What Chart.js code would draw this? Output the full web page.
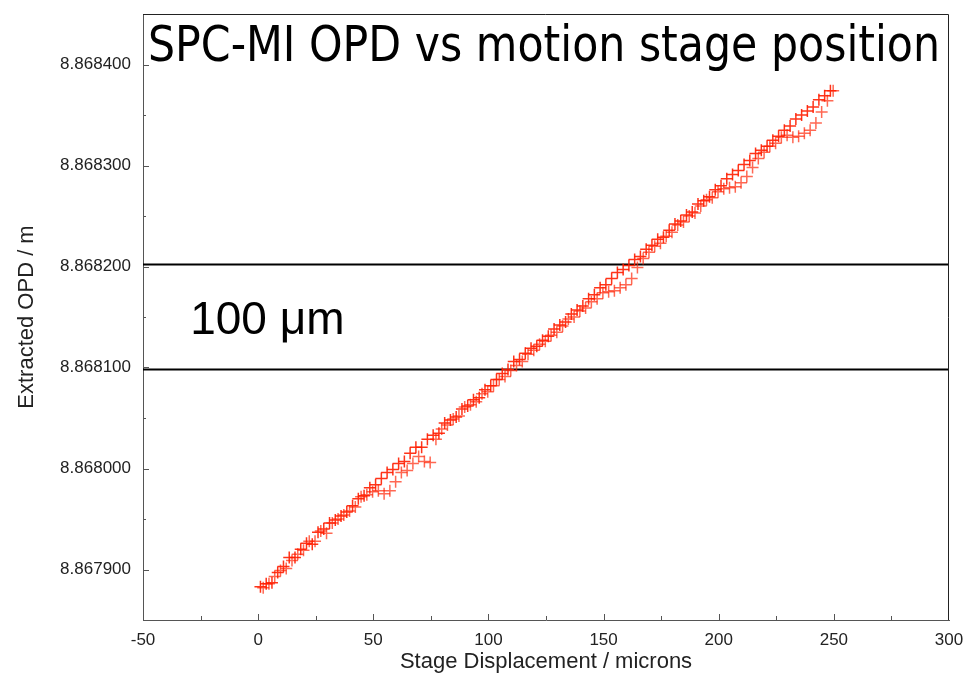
<!DOCTYPE html>
<html>
<head>
<meta charset="utf-8">
<script src="https://cdn.jsdelivr.net/npm/chart.js@4.4.1/dist/chart.umd.min.js"></script>
<style>
  html, body { margin: 0; padding: 0; background: #fff; }
  #wrap { width: 965px; height: 677px; position: relative; }
</style>
</head>
<body>
<div id="wrap"><canvas id="opd"></canvas></div>
<script>
// stage displacement (microns) and extracted OPD (m)
const scanAx = [1, 3.5, 6, 8.5, 11, 13.5, 16, 18.5, 21, 23.5, 26, 28.5, 31, 33.5, 36, 38.5, 41, 43.5, 46, 48.5,
  51, 53.5, 56, 58.5, 61, 63.5, 66, 68.5, 71, 73.5, 76, 78.5, 81, 83.5, 86, 88.5, 91, 93.5, 96, 98.5,
  101, 103.5, 106, 108.5, 111, 113.5, 116, 118.5, 121, 123.5, 126, 128.5, 131, 133.5, 136, 138.5, 141, 143.5, 146, 148.5,
  151, 153.5, 156, 158.5, 161, 163.5, 166, 168.5, 171, 173.5, 176, 178.5, 181, 183.5, 186, 188.5, 191, 193.5, 196, 198.5,
  201, 203.5, 206, 208.5, 211, 213.5, 216, 218.5, 221, 223.5, 226, 228.5, 231, 233.5, 236, 238.5, 241, 243.5, 246, 248.5];
const scanAy = [8.867883, 8.867886, 8.867887, 8.867897, 8.867903, 8.867912, 8.867912, 8.867920, 8.867926, 8.867925,
  8.867937, 8.867940, 8.867946, 8.867949, 8.867953, 8.867957, 8.867963, 8.867970, 8.867973, 8.867981,
  8.867984, 8.867990, 8.867996, 8.867999, 8.868005, 8.868007, 8.868015, 8.868021, 8.868021, 8.868029,
  8.868033, 8.868035, 8.868045, 8.868048, 8.868051, 8.868059, 8.868062, 8.868068, 8.868070, 8.868078,
  8.868082, 8.868088, 8.868094, 8.868098, 8.868106, 8.868108, 8.868114, 8.868119, 8.868121, 8.868127,
  8.868131, 8.868138, 8.868142, 8.868145, 8.868153, 8.868157, 8.868161, 8.868168, 8.868172, 8.868179,
  8.868182, 8.868188, 8.868194, 8.868197, 8.868201, 8.868207, 8.868210, 8.868217, 8.868221, 8.868227,
  8.868229, 8.868236, 8.868242, 8.868245, 8.868251, 8.868254, 8.868262, 8.868265, 8.868269, 8.868276,
  8.868280, 8.868287, 8.868291, 8.868295, 8.868301, 8.868305, 8.868312, 8.868315, 8.868319, 8.868325,
  8.868329, 8.868335, 8.868339, 8.868346, 8.868350, 8.868354, 8.868358, 8.868365, 8.868369, 8.868374];

const scanBx = [2.2, 4.7, 7.2, 9.7, 12.2, 14.7, 17.2, 19.7, 22.2, 24.7, 27.2, 29.7, 32.2, 34.7, 37.2, 39.7, 42.2, 44.7, 47.2, 49.7,
  52.2, 54.7, 57.2, 59.7, 62.2, 64.7, 67.2, 69.7, 72.2, 74.7, 77.2, 79.7, 82.2, 84.7, 87.2, 89.7, 92.2, 94.7, 97.2, 99.7,
  102.2, 104.7, 107.2, 109.7, 112.2, 114.7, 117.2, 119.7, 122.2, 124.7, 127.2, 129.7, 132.2, 134.7, 137.2, 139.7, 142.2, 144.7, 147.2, 149.7,
  152.2, 154.7, 157.2, 159.7, 162.2, 164.7, 167.2, 169.7, 172.2, 174.7, 177.2, 179.7, 182.2, 184.7, 187.2, 189.7, 192.2, 194.7, 197.2, 199.7,
  202.2, 204.7, 207.2, 209.7, 212.2, 214.7, 217.2, 219.7, 222.2, 224.7, 227.2, 229.7, 232.2, 234.7, 237.2, 239.7, 242.2, 244.7, 247.2, 249.7];
const scanBy = [8.867882, 8.867886, 8.867893, 8.867899, 8.867901, 8.867909, 8.867915, 8.867919, 8.867928, 8.867928,
  8.867938, 8.867936, 8.867946, 8.867950, 8.867954, 8.867958, 8.867962, 8.867972, 8.867974, 8.867977,
  8.867978, 8.867975, 8.867978, 8.867987, 8.867996, 8.867998, 8.868005, 8.868012, 8.868007, 8.868006,
  8.868029, 8.868039, 8.868043, 8.868049, 8.868052, 8.868061, 8.868063, 8.868066, 8.868074, 8.868076,
  8.868082, 8.868088, 8.868091, 8.868097, 8.868102, 8.868106, 8.868113, 8.868117, 8.868123, 8.868126,
  8.868132, 8.868135, 8.868141, 8.868148, 8.868150, 8.868156, 8.868159, 8.868165, 8.868168, 8.868174,
  8.868175, 8.868176, 8.868179, 8.868182, 8.868188, 8.868199, 8.868208, 8.868214, 8.868220, 8.868223,
  8.868230, 8.868234, 8.868241, 8.868244, 8.868250, 8.868253, 8.868260, 8.868266, 8.868268, 8.868274,
  8.868277, 8.868278, 8.868279, 8.868283, 8.868289, 8.868298, 8.868307, 8.868313, 8.868319, 8.868322,
  8.868328, 8.868330, 8.868328, 8.868329, 8.868332, 8.868335, 8.868342, 8.868353, 8.868364, 8.868374];

// the two horizontal marker lines and the gap label
const markerLevels = [8.868202, 8.868098];
const xRange = [-50, 300];
const yRange = [8.86785, 8.86845];
const titleText = 'SPC-MI OPD vs motion stage position';
const gapLabel = { text: '100 \u03bcm', x: -29.5, y: 8.868133 };

const toPts = (xs, ys) => xs.map((x, i) => ({ x: x, y: ys[i] }));

const noOverhang = s => { s.paddingTop = 0; s.paddingRight = 0; s.paddingLeft = 0; s.paddingBottom = 0; };

const frameAndTicks = {
  id: 'frameAndTicks',
  afterDatasetsDraw(chart) {
    const { ctx, chartArea: a, scales } = chart;
    ctx.save();
    // top and right frame
    ctx.strokeStyle = '#222';
    ctx.lineWidth = 1;
    ctx.beginPath();
    ctx.moveTo(a.left, a.top + 0.5);
    ctx.lineTo(a.right - 0.5, a.top + 0.5);
    ctx.lineTo(a.right - 0.5, a.bottom);
    ctx.stroke();

    // inward tick marks
    ctx.strokeStyle = '#555';
    ctx.beginPath();
    scales.x.ticks.forEach(t => {
      if (t.value <= xRange[0] || t.value >= xRange[1]) return;
      const px = Math.round(scales.x.getPixelForValue(t.value)) + 0.5;
      const len = t.value % 50 === 0 ? 6 : 4;
      ctx.moveTo(px, a.bottom);
      ctx.lineTo(px, a.bottom - len);
    });
    scales.y.ticks.forEach(t => {
      if (t.value <= yRange[0] || t.value >= yRange[1]) return;
      const py = Math.round(scales.y.getPixelForValue(t.value)) + 0.5;
      const major = Math.round(t.value * 1e6) % 100 === 0;
      ctx.moveTo(a.left, py);
      ctx.lineTo(a.left + (major ? 6 : 3), py);
    });
    ctx.stroke();

    // title inside the plot
    ctx.fillStyle = '#000';
    ctx.font = '50px "DejaVu Sans"';
    ctx.textBaseline = 'alphabetic';
    ctx.textAlign = 'left';
    const w = ctx.measureText(titleText).width;
    const target = 792;
    ctx.save();
    ctx.translate(a.left + 5, a.top + 47);
    ctx.scale(target / w, 1);
    ctx.fillText(titleText, 0, 0);
    ctx.restore();

    // gap annotation
    ctx.font = '46px "Liberation Sans", Arial, sans-serif';
    ctx.fillText(gapLabel.text, scales.x.getPixelForValue(gapLabel.x), scales.y.getPixelForValue(gapLabel.y));
    ctx.restore();
  }
};

new Chart(document.getElementById('opd').getContext('2d'), {
  type: 'scatter',
  data: {
    datasets: [
      {
        label: 'scan A',
        data: toPts(scanAx, scanAy),
        pointStyle: 'cross',
        pointRadius: 6,
        borderColor: 'rgba(255,30,0,0.9)',
        borderWidth: 1.5,
        backgroundColor: 'rgba(255,30,0,0.9)'
      },
      {
        label: 'scan B',
        data: toPts(scanBx, scanBy),
        pointStyle: 'cross',
        pointRadius: 6,
        borderColor: 'rgba(255,40,10,0.7)',
        borderWidth: 1.5,
        backgroundColor: 'rgba(255,40,10,0.7)'
      },
      ...markerLevels.map(v => ({
        type: 'line',
        label: 'level ' + v,
        data: [{ x: xRange[0], y: v }, { x: xRange[1], y: v }],
        borderColor: '#000',
        borderWidth: 2,
        pointRadius: 0,
        fill: false
      }))
    ]
  },
  options: {
    responsive: true,
    maintainAspectRatio: false,
    animation: false,
    layout: { padding: { top: 14, right: 16, left: 0, bottom: 0 } },
    plugins: {
      legend: { display: false },
      tooltip: { enabled: false }
    },
    scales: {
      x: {
        type: 'linear',
        min: xRange[0],
        max: xRange[1],
        afterFit: s => { s.height = 57; noOverhang(s); },
        grid: { display: false, drawTicks: false },
        border: { display: true, color: '#555', width: 1 },
        ticks: {
          stepSize: 25,
          autoSkip: false,
          maxRotation: 0,
          padding: 10,
          color: '#222',
          font: { family: '"Liberation Sans", Arial, sans-serif', size: 17 },
          callback: v => (v % 50 === 0 ? String(v) : '')
        },
        title: {
          display: true,
          text: 'Stage Displacement / microns',
          color: '#222',
          font: { family: '"Liberation Sans", Arial, sans-serif', size: 22 },
          padding: { top: 0, bottom: 2 }
        }
      },
      y: {
        type: 'linear',
        min: yRange[0],
        max: yRange[1],
        afterFit: s => { s.width = 143; noOverhang(s); },
        grid: { display: false, drawTicks: false },
        border: { display: true, color: '#555', width: 1 },
        ticks: {
          stepSize: 0.00005,
          autoSkip: false,
          padding: 12,
          color: '#222',
          font: { family: '"Liberation Sans", Arial, sans-serif', size: 17 },
          callback: v => (Math.round(v * 1e6) % 100 === 0 ? v.toFixed(6) : '')
        },
        title: {
          display: true,
          text: 'Extracted OPD / m',
          color: '#222',
          font: { family: '"Liberation Sans", Arial, sans-serif', size: 22 },
          padding: { top: 14, bottom: 0 }
        }
      }
    }
  },
  plugins: [frameAndTicks]
});
</script>
</body>
</html>
